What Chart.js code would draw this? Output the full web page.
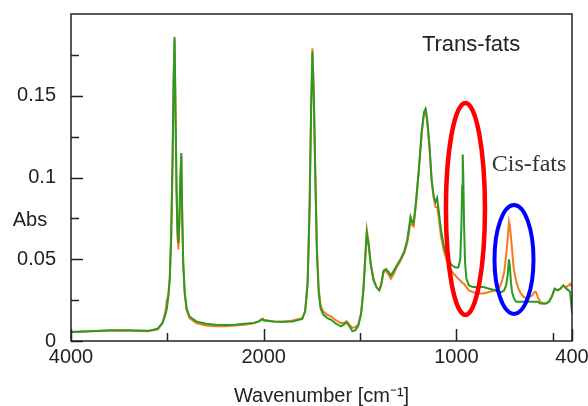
<!DOCTYPE html>
<html>
<head>
<meta charset="utf-8">
<script src="https://cdn.jsdelivr.net/npm/chart.js@4/dist/chart.umd.min.js"></script>
<style>
  html, body { margin: 0; padding: 0; background: #fff; }
</style>
</head>
<body>
<canvas id="myChart" width="588" height="406"></canvas>
<script>
// wavenumbers (cm-1), shared by both spectra
const wavenumbers = [4000, 3800, 3600, 3400, 3200, 3100, 3050, 3020, 3005, 2990, 2975, 2960, 2945, 2935, 2925, 2915, 2905, 2895, 2885, 2875, 2865, 2855, 2845, 2835, 2820, 2800, 2770, 2700, 2600, 2500, 2400, 2300, 2200, 2100, 2050, 2020, 2010, 2000,
  1950, 1900, 1850, 1800, 1785, 1772, 1762, 1754, 1747, 1740, 1732, 1724, 1715, 1705, 1690, 1670, 1650, 1630, 1600, 1585, 1570, 1555, 1540, 1525, 1510, 1495, 1483, 1473, 1465, 1455, 1445, 1430, 1415, 1400, 1390, 1378, 1365, 1350, 1340, 1325, 1310, 1290, 1270, 1255, 1245, 1238, 1230, 1222, 1210, 1195, 1180, 1168, 1160, 1152, 1140, 1128, 1117, 1108, 1100, 1092, 1080, 1065, 1050, 1035, 1020, 1005,
  990, 980, 974, 970, 967, 964, 960, 955, 948, 935, 915, 890, 860, 830, 800, 780, 765, 752, 742, 734, 727, 722, 717, 711, 704, 696, 688, 678, 665, 650, 635, 620, 605, 595, 587, 578, 565, 550, 535, 520, 505, 490, 475, 460, 445, 430, 418, 410, 405, 400];

// absorbance, green spectrum (trans-fats sample)
const transAbs = [0.0055, 0.006, 0.0065, 0.0065, 0.0062, 0.0075, 0.011, 0.016, 0.020, 0.027, 0.038, 0.065, 0.115, 0.160, 0.186, 0.140, 0.095, 0.068, 0.060, 0.075, 0.100, 0.115, 0.075, 0.048, 0.030, 0.020, 0.015, 0.012, 0.0105, 0.010, 0.0098, 0.010, 0.0105, 0.011, 0.012, 0.013, 0.0135, 0.0125,
  0.012, 0.0118, 0.012, 0.0135, 0.018, 0.035, 0.080, 0.140, 0.177, 0.150, 0.100, 0.055, 0.030, 0.020, 0.016, 0.014, 0.013, 0.011, 0.009, 0.010, 0.0115, 0.009, 0.006, 0.0065, 0.009, 0.016, 0.030, 0.050, 0.066, 0.058, 0.047, 0.037, 0.033, 0.031, 0.035, 0.043, 0.044, 0.042, 0.040, 0.043, 0.046, 0.050, 0.055, 0.062, 0.070, 0.076, 0.073, 0.072, 0.085, 0.105, 0.128, 0.140, 0.142, 0.136, 0.120, 0.098, 0.088, 0.085, 0.0875, 0.080, 0.068, 0.058, 0.052, 0.048, 0.046, 0.045,
  0.045, 0.050, 0.070, 0.095, 0.114, 0.100, 0.070, 0.048, 0.038, 0.034, 0.033, 0.033, 0.033, 0.032, 0.031, 0.030, 0.030, 0.031, 0.034, 0.040, 0.050, 0.045, 0.036, 0.030, 0.027, 0.025, 0.024, 0.024, 0.024, 0.024, 0.024, 0.024, 0.024, 0.024, 0.024, 0.024, 0.023, 0.023, 0.023, 0.024, 0.027, 0.032, 0.031, 0.032, 0.034, 0.032, 0.031, 0.030, 0.024, 0.017];

// absorbance, orange spectrum (cis-fats sample)
const cisAbs = [0.0055, 0.006, 0.0062, 0.0063, 0.006, 0.0072, 0.011, 0.018, 0.025, 0.028, 0.038, 0.064, 0.112, 0.158, 0.184, 0.140, 0.093, 0.064, 0.056, 0.072, 0.098, 0.113, 0.074, 0.047, 0.029, 0.019, 0.014, 0.011, 0.0095, 0.009, 0.009, 0.0095, 0.010, 0.011, 0.012, 0.0135, 0.0135, 0.013,
  0.012, 0.0118, 0.0125, 0.014, 0.018, 0.036, 0.082, 0.142, 0.179, 0.152, 0.102, 0.058, 0.033, 0.022, 0.018, 0.016, 0.015, 0.013, 0.011, 0.011, 0.012, 0.010, 0.008, 0.0085, 0.010, 0.017, 0.031, 0.052, 0.068, 0.060, 0.048, 0.038, 0.033, 0.031, 0.034, 0.042, 0.043, 0.040, 0.038, 0.041, 0.045, 0.049, 0.054, 0.060, 0.067, 0.073, 0.071, 0.070, 0.083, 0.104, 0.127, 0.139, 0.141, 0.135, 0.119, 0.097, 0.087, 0.082, 0.082, 0.076, 0.064, 0.055, 0.049, 0.045, 0.042, 0.040,
  0.038, 0.037, 0.036, 0.036, 0.036, 0.035, 0.035, 0.034, 0.033, 0.031, 0.030, 0.029, 0.029, 0.030, 0.031, 0.032, 0.036, 0.042, 0.052, 0.062, 0.073, 0.070, 0.064, 0.056, 0.046, 0.040, 0.036, 0.032, 0.029, 0.027, 0.026, 0.027, 0.028, 0.030, 0.030, 0.027, 0.024, 0.023, 0.023, 0.024, 0.027, 0.032, 0.031, 0.032, 0.034, 0.033, 0.034, 0.035, 0.034, 0.033];

const xTickWavenumbers = [4000, 3000, 2000, 1500, 1000, 500, 400];
const xTickLabels = [4000, 2000, 1000, 400];
const yTickValues = [0, 0.025, 0.05, 0.075, 0.1, 0.125, 0.15, 0.175];
const yTickLabels = [0, 0.05, 0.1, 0.15];

// the spectrum axis is compressed 2x above 2000 cm-1
function toAxis(w) { return w >= 2000 ? (4000 - w) / 2 : 3000 - w; }
function fromAxis(t) { return t <= 1000 ? 4000 - 2 * t : 3000 - t; }

const points = (vals) => wavenumbers.map((w, i) => ({x: toAxis(w), y: vals[i]}));

const frameAndMarks = {
  id: 'frameAndMarks',
  afterDatasetsDraw(chart) {
    const {ctx, chartArea: a, scales: {x, y}} = chart;
    ctx.save();
    ctx.strokeStyle = '#222';
    ctx.lineWidth = 1.5;
    ctx.strokeRect(a.left, a.top, a.right - a.left, a.bottom - a.top);
    ctx.beginPath();
    xTickWavenumbers.forEach(w => {
      const px = Math.round(x.getPixelForValue(toAxis(w))) + 0.5;
      const len = xTickLabels.includes(w) ? 12 : 8;
      ctx.moveTo(px, a.bottom);
      ctx.lineTo(px, a.bottom - len);
    });
    yTickValues.forEach(v => {
      const py = Math.round(y.getPixelForValue(v)) + 0.5;
      const len = yTickLabels.includes(v) ? 12 : 8;
      ctx.moveTo(a.left, py);
      ctx.lineTo(a.left + len, py);
    });
    ctx.stroke();

    // highlighted bands
    const ellipse = (w, v, rx, ry, color, lw) => {
      ctx.beginPath();
      ctx.ellipse(x.getPixelForValue(toAxis(w)), y.getPixelForValue(v), rx, ry, 0, 0, Math.PI * 2);
      ctx.strokeStyle = color;
      ctx.lineWidth = lw;
      ctx.stroke();
    };
    ellipse(953, 0.0808, 19.5, 106, '#ff0000', 4.5);
    ellipse(701, 0.0499, 19.5, 54.5, '#0000ff', 4);

    ctx.textAlign = 'center';
    ctx.textBaseline = 'middle';
    ctx.fillStyle = '#222';
    ctx.font = '22px "Liberation Sans", Arial, sans-serif';
    ctx.fillText('Trans-fats', x.getPixelForValue(toAxis(924)), y.getPixelForValue(0.181));
    ctx.font = '24px "Liberation Serif", "Times New Roman", serif';
    ctx.fillStyle = '#333';
    ctx.fillText('Cis-fats', x.getPixelForValue(toAxis(623)), y.getPixelForValue(0.1077));
    ctx.font = '20px "Liberation Sans", Arial, sans-serif';
    ctx.fillStyle = '#222';
    ctx.fillText('Abs', 30, 220);
    ctx.restore();
  }
};

Chart.defaults.font.family = '"Liberation Sans", Arial, sans-serif';
Chart.defaults.font.size = 20;
Chart.defaults.color = '#222';

var ctx = document.getElementById('myChart').getContext('2d');
var chart = new Chart(ctx, {
  type: 'line',
  data: {
    datasets: [{
      label: 'Trans-fats',
      data: points(transAbs),
      borderColor: '#2c9a22',
      borderWidth: 2,
      pointRadius: 0,
      tension: 0
    }, {
      label: 'Cis-fats',
      data: points(cisAbs),
      borderColor: '#f47b20',
      borderWidth: 2,
      pointRadius: 0,
      tension: 0
    }]
  },
  options: {
    responsive: false,
    animation: false,
    layout: {padding: {top: 14, right: 16, left: 0, bottom: 0}},
    plugins: {legend: {display: false}, tooltip: {enabled: false}},
    scales: {
      x: {
        type: 'linear',
        min: 0,
        max: 2600,
        grid: {display: false, drawTicks: false},
        border: {display: false},
        afterBuildTicks: (scale) => { scale.ticks = xTickWavenumbers.map(w => ({value: toAxis(w)})); },
        afterFit: (scale) => { scale.height = 65; scale.paddingLeft = 0; scale.paddingRight = 0; },
        ticks: {
          padding: 4,
          maxRotation: 0,
          autoSkip: false,
          callback: (value) => {
            const w = Math.round(fromAxis(value));
            return xTickLabels.includes(w) ? String(w) : '';
          }
        },
        title: {
          display: true,
          text: 'Wavenumber [cm\u207B\u00B9]',
          font: {size: 20, lineHeight: 1},
          padding: {top: 0, bottom: 0}
        }
      },
      y: {
        min: 0,
        max: 0.2,
        grid: {display: false, drawTicks: false},
        border: {display: false},
        afterBuildTicks: (scale) => { scale.ticks = yTickValues.map(v => ({value: v})); },
        afterFit: (scale) => { scale.width = 71; scale.paddingTop = 0; scale.paddingBottom = 0; },
        ticks: {
          padding: 15,
          autoSkip: false,
          callback: (value) => yTickLabels.includes(value) ? String(value) : ''
        }
      }
    }
  },
  plugins: [frameAndMarks]
});
</script>
</body>
</html>
